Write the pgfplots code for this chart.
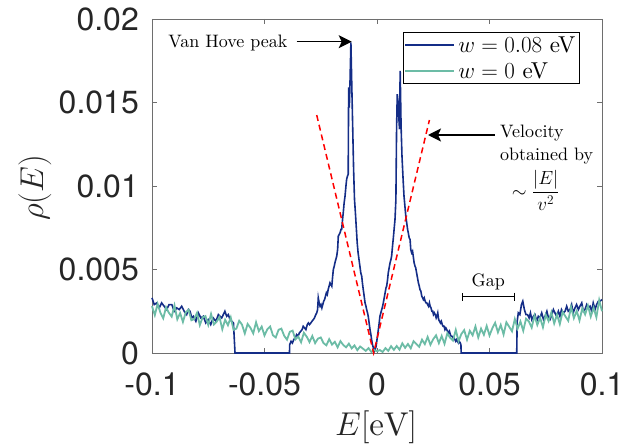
\documentclass[border=0pt]{standalone}
\usepackage{fix-cm}
\usepackage{fontspec}
\setmainfont{lmroman10-regular.otf}[ItalicFont=lmroman10-italic.otf, BoldFont=lmroman10-bold.otf]
\usepackage{pgfplots}
\pgfplotsset{compat=1.18}
\usepackage{pgfplotstable}
\usetikzlibrary{arrows.meta}
\newfontfamily\ticksfont{TeX Gyre Heros}
\definecolor{wblue}{RGB}{20,45,135}
\definecolor{wteal}{RGB}{108,188,166}
\definecolor{axgray}{RGB}{110,110,110}
\definecolor{tickgray}{RGB}{38,38,38}

\pgfplotstableread{
x y
-0.1000 0.0033
-0.0990 0.0029
-0.0979 0.0030
-0.0968 0.0027
-0.0957 0.0030
-0.0946 0.0028
-0.0935 0.0026
-0.0924 0.0029
-0.0912 0.0029
-0.0901 0.0025
-0.0890 0.0027
-0.0879 0.0026
-0.0868 0.0028
-0.0857 0.0025
-0.0846 0.0023
-0.0838 0.0026
-0.0831 0.0025
-0.0823 0.0021
-0.0816 0.0022
-0.0805 0.0019
-0.0794 0.0024
-0.0783 0.0021
-0.0772 0.0022
-0.0761 0.0018
-0.0750 0.0020
-0.0739 0.0017
-0.0728 0.0021
-0.0716 0.0019
-0.0705 0.0023
-0.0690 0.0021
-0.0676 0.0025
-0.0668 0.0022
-0.0661 0.0023
-0.0653 0.0020
-0.0646 0.0019
-0.0638 0.0018
-0.0631 0.0000
-0.0389 0.0000
-0.0388 0.0005
-0.0382 0.0007
-0.0376 0.0006
-0.0370 0.0008
-0.0364 0.0009
-0.0357 0.0011
-0.0351 0.0010
-0.0345 0.0012
-0.0339 0.0013
-0.0333 0.0014
-0.0328 0.0016
-0.0322 0.0015
-0.0316 0.0014
-0.0310 0.0017
-0.0305 0.0018
-0.0300 0.0017
-0.0294 0.0018
-0.0289 0.0019
-0.0283 0.0020
-0.0278 0.0021
-0.0272 0.0023
-0.0268 0.0024
-0.0264 0.0026
-0.0261 0.0033
-0.0257 0.0030
-0.0253 0.0028
-0.0249 0.0029
-0.0245 0.0027
-0.0241 0.0029
-0.0237 0.0031
-0.0233 0.0032
-0.0229 0.0034
-0.0225 0.0036
-0.0221 0.0035
-0.0217 0.0038
-0.0213 0.0040
-0.0209 0.0042
-0.0205 0.0041
-0.0201 0.0040
-0.0197 0.0046
-0.0194 0.0050
-0.0190 0.0052
-0.0187 0.0054
-0.0183 0.0056
-0.0179 0.0058
-0.0175 0.0062
-0.0172 0.0070
-0.0168 0.0071
-0.0164 0.0072
-0.0160 0.0074
-0.0157 0.0074
-0.0153 0.0080
-0.0150 0.0084
-0.0146 0.0090
-0.0142 0.0094
-0.0138 0.0100
-0.0135 0.0104
-0.0131 0.0106
-0.0128 0.0107
-0.0126 0.0159
-0.0123 0.0147
-0.0120 0.0162
-0.0116 0.0186
-0.0112 0.0160
-0.0108 0.0135
-0.0104 0.0110
-0.0100 0.0092
-0.0096 0.0084
-0.0092 0.0075
-0.0088 0.0066
-0.0084 0.0060
-0.0080 0.0056
-0.0076 0.0052
-0.0072 0.0048
-0.0068 0.0046
-0.0064 0.0041
-0.0061 0.0038
-0.0057 0.0034
-0.0053 0.0030
-0.0049 0.0028
-0.0046 0.0026
-0.0042 0.0024
-0.0039 0.0022
-0.0035 0.0018
-0.0031 0.0014
-0.0027 0.0011
-0.0024 0.0008
-0.0020 0.0005
-0.0016 0.0003
-0.0012 0.0001
-0.0008 0.0002
-0.0004 0.0004
0.0000 0.0008
0.0004 0.0012
0.0008 0.0016
0.0013 0.0022
0.0017 0.0024
0.0021 0.0026
0.0025 0.0028
0.0028 0.0030
0.0032 0.0033
0.0036 0.0036
0.0040 0.0039
0.0043 0.0040
0.0047 0.0044
0.0050 0.0048
0.0054 0.0051
0.0058 0.0054
0.0062 0.0056
0.0065 0.0058
0.0069 0.0064
0.0072 0.0068
0.0076 0.0074
0.0080 0.0080
0.0084 0.0092
0.0087 0.0134
0.0090 0.0155
0.0094 0.0150
0.0097 0.0141
0.0100 0.0134
0.0103 0.0169
0.0107 0.0136
0.0111 0.0118
0.0116 0.0104
0.0120 0.0094
0.0124 0.0088
0.0128 0.0082
0.0132 0.0078
0.0136 0.0074
0.0139 0.0072
0.0143 0.0069
0.0147 0.0068
0.0150 0.0062
0.0154 0.0060
0.0158 0.0061
0.0161 0.0058
0.0165 0.0054
0.0169 0.0052
0.0172 0.0051
0.0176 0.0048
0.0180 0.0045
0.0184 0.0042
0.0188 0.0040
0.0191 0.0038
0.0195 0.0037
0.0199 0.0034
0.0203 0.0033
0.0206 0.0032
0.0210 0.0033
0.0214 0.0031
0.0218 0.0030
0.0221 0.0030
0.0225 0.0029
0.0229 0.0028
0.0233 0.0030
0.0236 0.0028
0.0240 0.0027
0.0244 0.0025
0.0248 0.0025
0.0251 0.0023
0.0255 0.0024
0.0259 0.0023
0.0263 0.0021
0.0266 0.0022
0.0270 0.0024
0.0274 0.0020
0.0278 0.0019
0.0282 0.0018
0.0286 0.0019
0.0290 0.0017
0.0294 0.0016
0.0298 0.0016
0.0302 0.0014
0.0306 0.0015
0.0310 0.0014
0.0314 0.0013
0.0318 0.0012
0.0322 0.0013
0.0326 0.0011
0.0330 0.0010
0.0334 0.0010
0.0338 0.0009
0.0342 0.0009
0.0346 0.0008
0.0350 0.0007
0.0354 0.0008
0.0358 0.0007
0.0362 0.0006
0.0366 0.0007
0.0370 0.0006
0.0373 0.0005
0.0374 0.0000
0.0621 0.0000
0.0623 0.0019
0.0628 0.0024
0.0635 0.0023
0.0642 0.0029
0.0648 0.0031
0.0655 0.0026
0.0662 0.0023
0.0669 0.0023
0.0676 0.0021
0.0682 0.0024
0.0688 0.0020
0.0695 0.0022
0.0702 0.0023
0.0710 0.0019
0.0717 0.0022
0.0724 0.0021
0.0732 0.0024
0.0740 0.0020
0.0747 0.0022
0.0755 0.0025
0.0762 0.0021
0.0769 0.0020
0.0777 0.0023
0.0784 0.0026
0.0791 0.0024
0.0798 0.0022
0.0806 0.0025
0.0813 0.0022
0.0820 0.0026
0.0828 0.0024
0.0836 0.0025
0.0843 0.0028
0.0850 0.0025
0.0858 0.0026
0.0865 0.0029
0.0872 0.0024
0.0880 0.0027
0.0887 0.0029
0.0895 0.0026
0.0902 0.0028
0.0910 0.0030
0.0917 0.0025
0.0924 0.0026
0.0932 0.0029
0.0939 0.0027
0.0947 0.0028
0.0954 0.0025
0.0961 0.0030
0.0969 0.0026
0.0976 0.0029
0.0984 0.0031
0.0991 0.0031
0.1000 0.0032
}\bluedata

\pgfplotstableread{
x y
-0.10000 0.00280
-0.09875 0.00227
-0.09750 0.00294
-0.09625 0.00241
-0.09500 0.00208
-0.09375 0.00274
-0.09250 0.00241
-0.09125 0.00218
-0.09000 0.00285
-0.08875 0.00202
-0.08750 0.00239
-0.08625 0.00186
-0.08500 0.00243
-0.08375 0.00259
-0.08250 0.00196
-0.08125 0.00203
-0.08000 0.00240
-0.07875 0.00167
-0.07750 0.00214
-0.07625 0.00221
-0.07500 0.00168
-0.07375 0.00234
-0.07250 0.00171
-0.07125 0.00188
-0.07000 0.00215
-0.06875 0.00142
-0.06750 0.00199
-0.06625 0.00166
-0.06500 0.00213
-0.06375 0.00139
-0.06250 0.00146
-0.06125 0.00193
-0.06000 0.00170
-0.05875 0.00117
-0.05750 0.00174
-0.05625 0.00151
-0.05500 0.00118
-0.05375 0.00184
-0.05250 0.00131
-0.05125 0.00158
-0.05000 0.00105
-0.04875 0.00142
-0.04750 0.00159
-0.04625 0.00106
-0.04500 0.00093
-0.04375 0.00139
-0.04250 0.00146
-0.04125 0.00103
-0.04000 0.00080
-0.03875 0.00127
-0.03750 0.00134
-0.03625 0.00081
-0.03500 0.00098
-0.03375 0.00064
-0.03250 0.00121
-0.03125 0.00098
-0.03000 0.00065
-0.02875 0.00102
-0.02750 0.00059
-0.02625 0.00086
-0.02500 0.00093
-0.02375 0.00059
-0.02250 0.00046
-0.02125 0.00083
-0.02000 0.00050
-0.01875 0.00067
-0.01750 0.00034
-0.01625 0.00071
-0.01500 0.00048
-0.01375 0.00034
-0.01250 0.00056
-0.01125 0.00028
-0.01000 0.00045
-0.00875 0.00017
-0.00750 0.00039
-0.00625 0.00026
-0.00500 0.00013
-0.00375 0.00029
-0.00250 0.00006
-0.00125 0.00018
0.00000 0.00010
0.00125 0.00018
0.00250 0.00006
0.00375 0.00029
0.00500 0.00013
0.00625 0.00041
0.00750 0.00019
0.00875 0.00042
0.01000 0.00020
0.01125 0.00058
0.01250 0.00031
0.01375 0.00054
0.01500 0.00028
0.01625 0.00071
0.01750 0.00054
0.01875 0.00037
0.02000 0.00080
0.02125 0.00053
0.02250 0.00096
0.02375 0.00049
0.02500 0.00083
0.02625 0.00106
0.02750 0.00059
0.02875 0.00102
0.03000 0.00055
0.03125 0.00118
0.03250 0.00091
0.03375 0.00074
0.03500 0.00138
0.03625 0.00071
0.03750 0.00114
0.03875 0.00137
0.04000 0.00080
0.04125 0.00133
0.04250 0.00106
0.04375 0.00159
0.04500 0.00093
0.04625 0.00146
0.04750 0.00109
0.04875 0.00162
0.05000 0.00105
0.05125 0.00148
0.05250 0.00181
0.05375 0.00124
0.05500 0.00168
0.05625 0.00111
0.05750 0.00184
0.05875 0.00157
0.06000 0.00130
0.06125 0.00203
0.06250 0.00146
0.06375 0.00189
0.06500 0.00133
0.06625 0.00206
0.06750 0.00189
0.06875 0.00152
0.07000 0.00225
0.07125 0.00168
0.07250 0.00211
0.07375 0.00154
0.07500 0.00228
0.07625 0.00191
0.07750 0.00244
0.07875 0.00177
0.08000 0.00230
0.08125 0.00173
0.08250 0.00246
0.08375 0.00219
0.08500 0.00193
0.08625 0.00276
0.08750 0.00209
0.08875 0.00252
0.09000 0.00195
0.09125 0.00268
0.09250 0.00231
0.09375 0.00284
0.09500 0.00218
0.09625 0.00271
0.09750 0.00214
0.09875 0.00317
0.10000 0.00250
}\tealdata

\begin{document}
\begin{tikzpicture}
\begin{axis}[
  width=450pt, height=334pt, scale only axis,
  xmin=-0.1, xmax=0.1, ymin=0, ymax=0.02,
  clip=false,
  scaled x ticks=false, scaled y ticks=false,
  xtick={-0.1,-0.05,0,0.05,0.1},
  xticklabels={-0.1,-0.05,0,0.05,0.1},
  ytick={0,0.005,0.01,0.015,0.02},
  yticklabels={0,0.005,0.01,0.015,0.02},
  tick align=inside,
  major tick length=5pt,
  axis line style={draw=axgray, line width=0.8pt},
  every tick/.style={draw=axgray, line width=0.8pt},
  ticklabel style={font=\ticksfont\fontsize{32}{32}\selectfont, text=tickgray, inner sep=1pt},
  xticklabel style={yshift=-19pt},
  yticklabel style={xshift=-12pt},
  xlabel={$E[\mathrm{eV}]$},
  ylabel={$\rho(E)$},
  every axis x label/.style={at={(axis description cs:0.498,-0.223)}, anchor=center, font=\fontsize{33}{33}\selectfont, text=tickgray},
  every axis y label/.style={at={(axis description cs:-0.26,0.494)}, anchor=center, rotate=90, font=\fontsize{33}{33}\selectfont, text=tickgray},
  legend cell align=left,
  legend style={at={(axis description cs:0.558,0.961)}, anchor=north west,
    draw=black, line width=0.7pt, font=\fontsize{23}{23}\selectfont,
    inner xsep=1pt, inner ysep=2pt, row sep=5pt,
    nodes={inner xsep=3pt, inner ysep=2pt}},
  legend image code/.code={\draw[#1] (0pt,0pt) -- (49pt,0pt);},
]
\addplot[color=wblue, line width=1.6pt] table[x=x,y=y] {\bluedata};
\addlegendentry{$w=0.08$ eV}
\addplot[color=wteal, line width=1.8pt] table[x=x,y=y] {\tealdata};
\addlegendentry{$w=0$ eV}
\addplot[color=red, line width=1.5pt, dash pattern=on 6pt off 4pt, forget plot] coordinates {(-0.0268,0.01425) (-0.0015,0) (0.0233,0.01395)};

\node[anchor=base west, font=\fontsize{18}{18}\selectfont, inner sep=0pt] at (axis cs:-0.0928,0.018281) {Van Hove peak};
\draw[line width=1.5pt, -{Stealth[length=13pt,width=13pt,inset=3pt]}] (axis cs:-0.03569,0.01864) -- (axis cs:-0.01124,0.01864);

\node[anchor=base west, font=\fontsize{18}{18}\selectfont, inner sep=0pt] at (axis cs:0.05467,0.012916) {Velocity};
\node[anchor=base west, font=\fontsize{18}{18}\selectfont, inner sep=0pt] at (axis cs:0.05467,0.011557) {obtained by};
\node[anchor=west, font=\fontsize{19}{19}\selectfont, inner sep=0pt] at (axis cs:0.0598,0.00975) {$\sim\displaystyle\frac{|E|}{v^2}$};
\draw[line width=1.5pt, -{Stealth[length=13pt,width=13pt,inset=3pt]}] (axis cs:0.05244,0.013054) -- (axis cs:0.02267,0.013054);

\node[anchor=base, font=\fontsize{18}{18}\selectfont, inner sep=0pt] at (axis cs:0.04947,0.004012) {Gap};
\draw[line width=1.3pt, {Bar[width=8pt]}-{Bar[width=8pt]}] (axis cs:0.03764,0.003371) -- (axis cs:0.06133,0.003371);
\end{axis}
\pgfresetboundingbox
\path ([shift={(-152pt,-92pt)}]current axis.south west) rectangle ([shift={(29pt,19pt)}]current axis.north east);
\end{tikzpicture}
\end{document}
